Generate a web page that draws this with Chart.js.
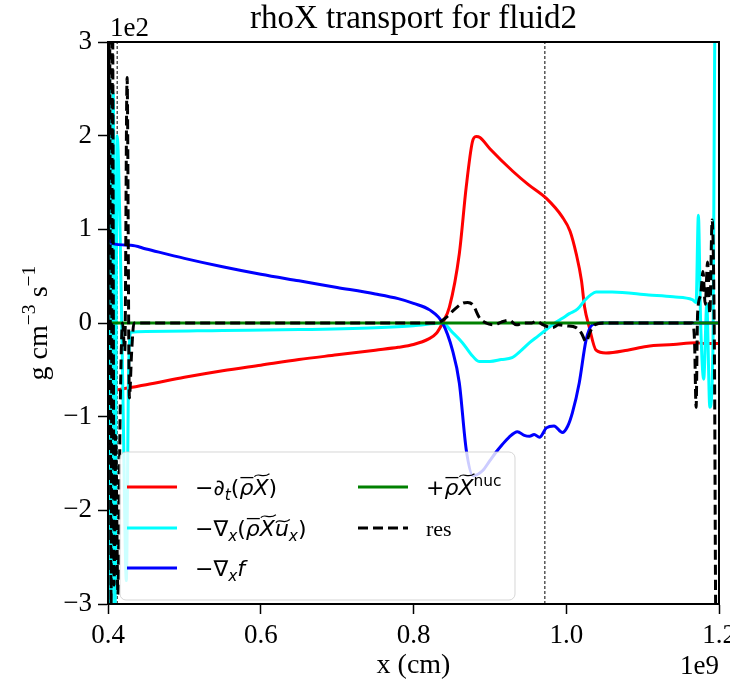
<!DOCTYPE html>
<html>
<head>
  <title>rhoX transport for fluid2</title>
  <script src="https://cdn.jsdelivr.net/npm/chart.js"></script>
  <style>
    body { margin: 0; background: #fff; }
    #wrap { width: 730px; height: 684px; }
  </style>
</head>
<body>
  <div id="wrap"><canvas id="rhoChart" width="730" height="684"></canvas></div>

  <script>
    // x in units of 1e9 cm, y in units of 1e2 g cm^-3 s^-1
    const xTicks = [0.4, 0.6, 0.8, 1.0, 1.2];
    const yTicks = [-3, -2, -1, 0, 1, 2, 3];
    const vlineX = [0.412, 0.972];

    const redX = [0.400, 0.45, 0.50, 0.55, 0.60, 0.65, 0.70, 0.75, 0.78, 0.80, 0.82, 0.83, 0.838, 0.847, 0.86, 0.869, 0.877, 0.882, 0.887, 0.90, 0.93, 0.95, 0.974, 0.995, 1.005, 1.013, 1.02, 1.024, 1.030, 1.039, 1.052, 1.08, 1.105, 1.14, 1.17, 1.18, 1.2];
    const redY = [-0.73, -0.66, -0.58, -0.51, -0.45, -0.39, -0.34, -0.29, -0.26, -0.23, -0.17, -0.11, 0.0, 0.17, 0.74, 1.45, 1.93, 1.99, 1.98, 1.86, 1.62, 1.48, 1.33, 1.13, 0.98, 0.74, 0.45, 0.17, -0.04, -0.29, -0.32, -0.29, -0.25, -0.23, -0.21, -0.22, -0.22];

    const cyanX = [0.400, 0.402, 0.404, 0.407, 0.409, 0.412, 0.416, 0.420, 0.424, 0.427, 0.430, 0.45, 0.55, 0.65, 0.75, 0.80, 0.838, 0.851, 0.864, 0.875, 0.886, 0.90, 0.915, 0.929, 0.94, 0.952, 0.963, 0.974, 0.985, 0.995, 1.004, 1.015, 1.024, 1.032, 1.039, 1.06, 1.108, 1.14, 1.165, 1.170, 1.173, 1.176, 1.180, 1.184, 1.188, 1.192, 1.195, 1.2];
    const cyanY = [-3.3, 2.6, -3.3, 2.45, -3.3, 2.0, 0.9, -1.0, -2.75, -0.5, -0.1, -0.09, -0.08, -0.07, -0.05, -0.03, 0.0, -0.1, -0.21, -0.33, -0.41, -0.41, -0.39, -0.37, -0.3, -0.21, -0.14, -0.07, 0.0, 0.05, 0.1, 0.15, 0.24, 0.3, 0.33, 0.33, 0.3, 0.28, 0.25, 0.22, 1.15, 0.0, -0.6, 0.2, -0.9, -0.3, 3.3, 3.3];

    const blueX = [0.400, 0.405, 0.43, 0.45, 0.50, 0.55, 0.60, 0.65, 0.70, 0.75, 0.78, 0.80, 0.821, 0.838, 0.851, 0.86, 0.869, 0.878, 0.89, 0.90, 0.908, 0.916, 0.925, 0.936, 0.945, 0.952, 0.958, 0.965, 0.974, 0.984, 0.995, 1.002, 1.008, 1.017, 1.026, 1.034, 1.045, 1.2];
    const blueY = [0.95, 0.85, 0.83, 0.79, 0.69, 0.60, 0.52, 0.45, 0.38, 0.31, 0.26, 0.21, 0.14, 0.0, -0.29, -0.64, -1.35, -1.63, -1.58, -1.47, -1.38, -1.30, -1.22, -1.16, -1.20, -1.21, -1.19, -1.22, -1.12, -1.10, -1.17, -1.10, -0.96, -0.64, -0.18, -0.02, 0, 0];

    const greenX = [0.4, 1.2];
    const greenY = [0, 0];

    const resX = [0.400, 0.402, 0.404, 0.406, 0.408, 0.410, 0.413, 0.416, 0.419, 0.422, 0.425, 0.428, 0.431, 0.434, 0.45, 0.80, 0.83, 0.843, 0.853, 0.864, 0.871, 0.878, 0.886, 0.895, 0.905, 0.915, 0.925, 0.935, 0.945, 0.955, 0.961, 0.97, 0.982, 0.99, 1.0, 1.013, 1.02, 1.026, 1.031, 1.037, 1.05, 1.165, 1.168, 1.170, 1.172, 1.176, 1.179, 1.182, 1.185, 1.188, 1.191, 1.194, 1.196, 1.2];
    const resY = [0.0, 3.3, -3.0, 3.3, -2.8, -1.2, -2.9, -0.9, 0.0, -0.3, 2.62, -0.8, -0.3, 0.0, 0.0, 0.0, 0.0, 0.06, 0.14, 0.21, 0.22, 0.19, 0.06, 0.0, -0.02, 0.01, 0.03, -0.02, 0.0, 0.0, 0.02, -0.02, -0.05, -0.02, -0.03, -0.05, -0.11, -0.2, -0.1, -0.02, 0, 0, -0.2, -0.9, 0.1, 0.3, 0.55, 0.2, 0.65, 0.1, 1.1, -0.3, -3.3, -3.3];

    // legend labels as rich text pieces: [text, flags]
    const legendLabels = [
      [['−∂'], ['t', 'i sub'], ['('], ['ρ', 'i bar'], ['X', 'i tilde'], [')']],
      [['−∇'], ['x', 'i sub'], ['('], ['ρ', 'i bar'], ['X', 'i tilde'], ['u', 'i tilde'], ['x', 'i sub'], [')']],
      [['−∇'], ['x', 'i sub'], ['f', 'i']],
      [['+'], ['ρ', 'i bar'], ['X', 'i tilde'], ['nuc', 'sup']],
      [['res', 'serif']]
    ];
    const yLabel = [['g cm', 'serif'], ['−3', 'serif sup'], [' s', 'serif'], ['−1', 'serif sup']];

    const SERIF = '"Liberation Serif", "Times New Roman", serif';
    const pts = (xs, ys) => xs.map((x, i) => ({ x: x, y: ys[i] }));

    const series = [
      { data: pts(resX, resY), color: '#000000', dash: [10, 5], order: 0 },
      { data: pts(greenX, greenY), color: '#008000', dash: [], order: 1 },
      { data: pts(blueX, blueY), color: '#0000ff', dash: [], order: 2 },
      { data: pts(cyanX, cyanY), color: '#00ffff', dash: [], order: 3 },
      { data: pts(redX, redY), color: '#ff0000', dash: [], order: 4 }
    ];

    const datasets = series.map(s => ({
      data: s.data,
      borderColor: s.color,
      borderWidth: 3,
      borderDash: s.dash,
      pointRadius: 0,
      fill: false,
      cubicInterpolationMode: 'monotone',
      order: s.order
    }));
    vlineX.forEach(x => datasets.push({
      data: [{ x: x, y: -3 }, { x: x, y: 3 }],
      borderColor: '#000000',
      borderWidth: 1,
      borderDash: [3, 2],
      pointRadius: 0,
      order: 6
    }));

    function fontFor(f, s) {
      if (f.includes('serif')) return s + 'px ' + SERIF;
      return (f.includes('i') ? 'italic ' : '') + s + 'px "DejaVu Sans"';
    }

    function richWidth(ctx, parts, size) {
      let w = 0;
      parts.forEach(p => {
        const f = p[1] || '';
        const small = f.includes('sub') || f.includes('sup');
        ctx.font = fontFor(f, small ? size * 0.7 : size);
        w += ctx.measureText(p[0]).width;
      });
      return w;
    }

    function drawRich(ctx, x, y, parts, size) {
      parts.forEach(p => {
        const txt = p[0];
        const f = p[1] || '';
        const small = f.includes('sub') || f.includes('sup');
        ctx.font = fontFor(f, small ? size * 0.7 : size);
        const dy = f.includes('sub') ? size * 0.22 : (f.includes('sup') ? -size * 0.42 : 0);
        ctx.fillText(txt, x, y + dy);
        const w = ctx.measureText(txt).width;
        if (f.includes('bar')) {
          ctx.fillRect(x + 1, y - size * 0.82, w - 1, 1.3);
        }
        if (f.includes('tilde')) {
          const top = y - size * (txt === 'u' ? 0.68 : 0.9);
          ctx.beginPath();
          ctx.lineWidth = 1.2;
          ctx.moveTo(x + 1, top + 1.5);
          ctx.bezierCurveTo(x + w * 0.35, top - 3.5, x + w * 0.6, top + 4, x + w + 1, top - 1.5);
          ctx.stroke();
        }
        x += w;
      });
    }

    const decor = {
      id: 'decor',
      afterDatasetsDraw(chart) {
        const { ctx, chartArea: a } = chart;
        ctx.save();
        ctx.strokeStyle = '#000';
        ctx.lineWidth = 2;
        ctx.strokeRect(a.left, a.top, a.right - a.left, a.bottom - a.top);
        ctx.restore();
      },
      afterDraw(chart) {
        const { ctx, chartArea: a } = chart;
        ctx.save();
        ctx.fillStyle = '#000';
        ctx.strokeStyle = '#000';
        ctx.textBaseline = 'alphabetic';
        // title
        ctx.font = '33px ' + SERIF;
        ctx.textAlign = 'center';
        ctx.fillText('rhoX transport for fluid2', (a.left + a.right) / 2, 28);
        // offset texts
        ctx.font = '27px ' + SERIF;
        ctx.textAlign = 'left';
        ctx.fillText('1e2', a.left + 2, 36);
        ctx.textAlign = 'right';
        ctx.fillText('1e9', a.right, 674);

        // y axis label, rotated
        ctx.textAlign = 'left';
        ctx.save();
        ctx.translate(47, (a.top + a.bottom) / 2);
        ctx.rotate(-Math.PI / 2);
        const yw = richWidth(ctx, yLabel, 28);
        drawRich(ctx, -yw / 2, 0, yLabel, 28);
        ctx.restore();

        // legend
        const bx = 120, by = 452, bw = 395, bh = 148;
        ctx.beginPath();
        ctx.roundRect(bx, by, bw, bh, 6);
        ctx.fillStyle = 'rgba(255,255,255,0.8)';
        ctx.fill();
        ctx.strokeStyle = 'rgba(204,204,204,0.8)';
        ctx.lineWidth = 1;
        ctx.stroke();

        const slots = [[127, 487], [127, 528], [127, 568], [358, 487], [358, 528]];
        const order = [4, 3, 2, 1, 0]; // series index for label 0..4
        for (let k = 0; k < 5; k++) {
          const s = series[order[k]];
          const [lx, ly] = slots[k];
          ctx.beginPath();
          ctx.strokeStyle = s.color;
          ctx.lineWidth = 3;
          ctx.setLineDash(s.dash);
          ctx.moveTo(lx, ly);
          ctx.lineTo(lx + 50, ly);
          ctx.stroke();
          ctx.setLineDash([]);
          ctx.fillStyle = '#000';
          ctx.strokeStyle = '#000';
          drawRich(ctx, lx + 68, ly + 8, legendLabels[k], 22);
        }
        ctx.restore();
      }
    };

    new Chart(document.getElementById('rhoChart'), {
      type: 'line',
      data: { datasets: datasets },
      options: {
        responsive: false,
        animation: false,
        devicePixelRatio: 1,
        layout: { padding: { top: 42, right: 11, left: 0, bottom: 0 } },
        plugins: { legend: { display: false }, tooltip: { enabled: false } },
        scales: {
          x: {
            type: 'linear',
            min: 0.4,
            max: 1.2,
            afterBuildTicks: s => { s.ticks = xTicks.map(v => ({ value: v })); },
            afterFit: s => { s.height = 80; s.paddingLeft = 0; s.paddingRight = 0; },
            ticks: {
              color: '#000',
              font: { family: SERIF, size: 27 },
              padding: 6,
              maxRotation: 0,
              callback: v => v.toFixed(1)
            },
            grid: { drawOnChartArea: false, color: '#000', tickLength: 10, tickWidth: 1.5 },
            border: { color: '#000', width: 2 },
            title: { display: true, text: 'x (cm)', color: '#000', font: { family: SERIF, size: 28 }, padding: { bottom: 2 } }
          },
          y: {
            min: -3,
            max: 3,
            afterBuildTicks: s => { s.ticks = yTicks.map(v => ({ value: v })); },
            afterFit: s => { s.width = 108; s.paddingTop = 0; s.paddingBottom = 0; },
            ticks: {
              color: '#000',
              font: { family: SERIF, size: 27 },
              padding: 6,
              callback: v => (v < 0 ? '−' + Math.abs(v) : String(v))
            },
            grid: { drawOnChartArea: false, color: '#000', tickLength: 10, tickWidth: 1.5 },
            border: { color: '#000', width: 2 }
          }
        }
      },
      plugins: [decor]
    });
  </script>
</body>
</html>
